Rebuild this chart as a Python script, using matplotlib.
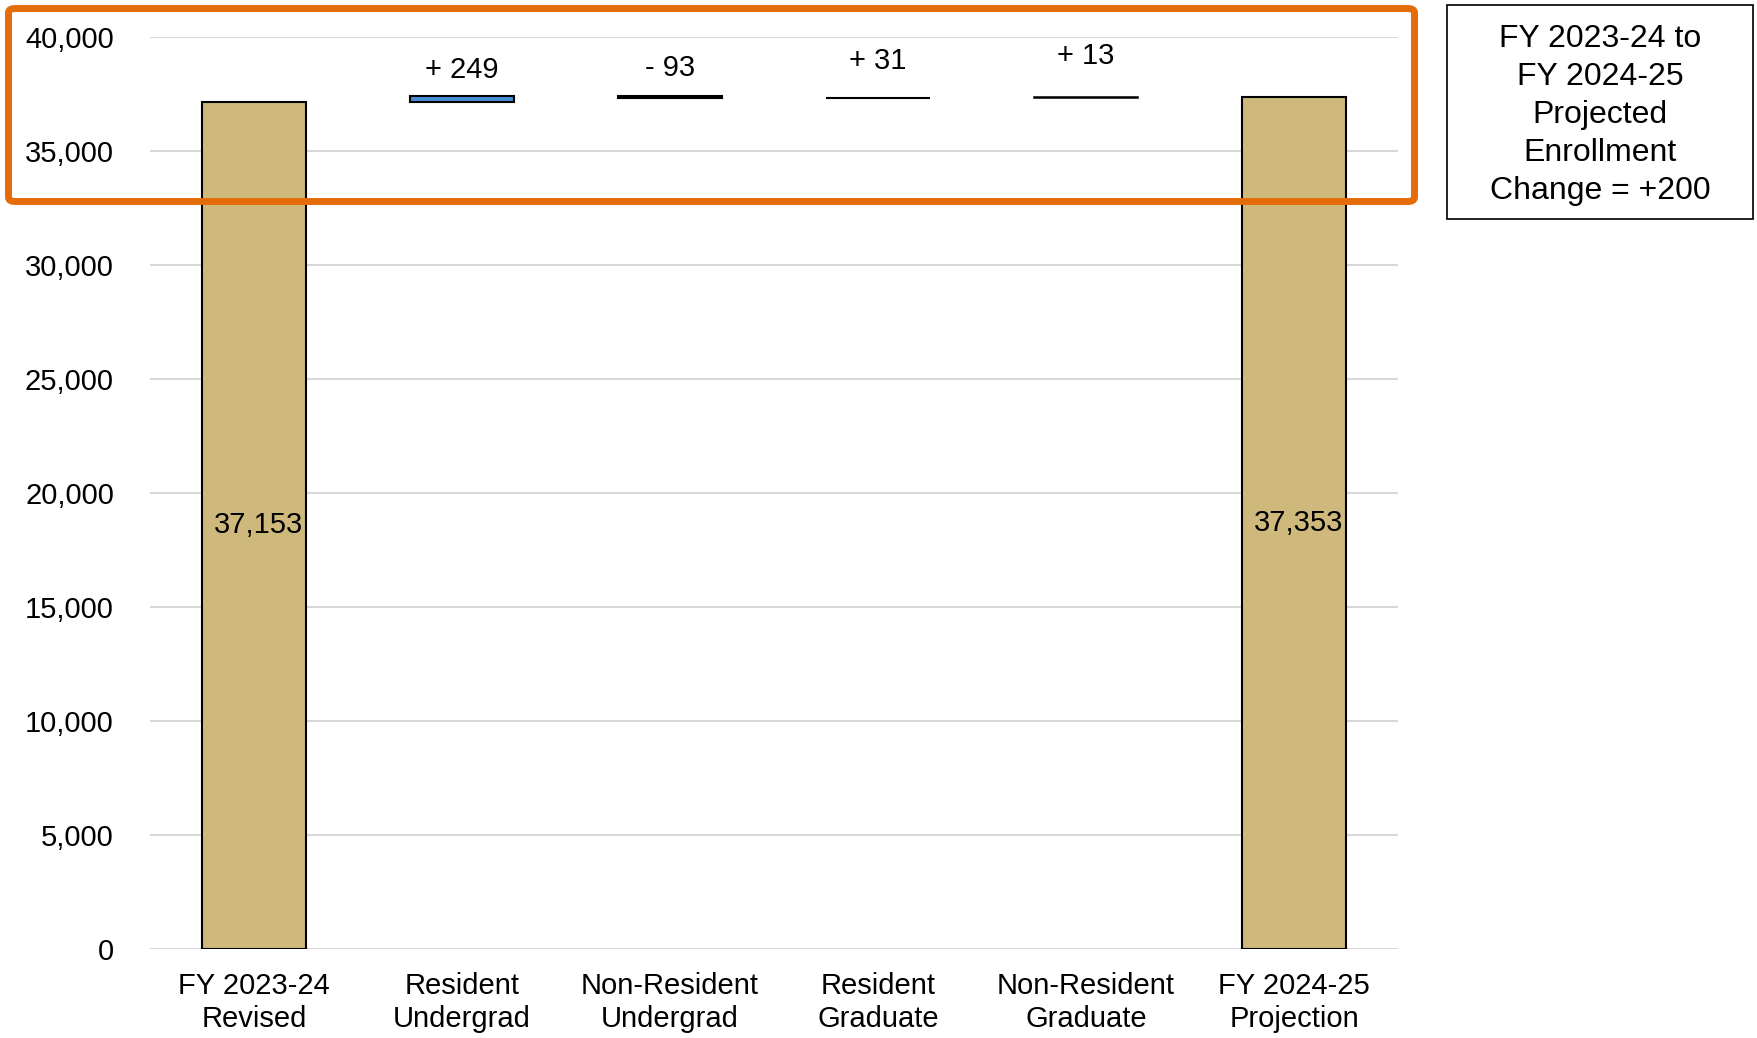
import matplotlib
matplotlib.use("Agg")
import matplotlib.pyplot as plt
from matplotlib.patches import FancyBboxPatch, Rectangle
from matplotlib.ticker import FuncFormatter

plt.rcParams['font.family'] = ['Liberation Sans', 'DejaVu Sans']

# Enrollment waterfall data
categories = ["FY 2023-24\nRevised", "Resident\nUndergrad", "Non-Resident\nUndergrad",
              "Resident\nGraduate", "Non-Resident\nGraduate", "FY 2024-25\nProjection"]
start_total = 37153
changes = [249, -93, 31, 13]
change_labels = ["+ 249", "- 93", "+ 31", "+ 13"]
end_total = start_total + sum(changes)
yticks = [0, 5000, 10000, 15000, 20000, 25000, 30000, 35000, 40000]
note_text = "FY 2023-24 to\nFY 2024-25\nProjected\nEnrollment\nChange = +200"

GOLD = "#CFB87C"
BLUE = "#4A8FD6"
ORANGE = "#E46C0A"

fig = plt.figure(figsize=(17.58, 10.38), dpi=100)
ax = fig.add_axes([150 / 1758, 1 - 948.5 / 1038, (1398 - 150) / 1758, (948.5 - 37) / 1038])

width = 0.5
# Totals
ax.bar(0, start_total, width=width, color=GOLD, edgecolor="black", linewidth=1.5, zorder=3)
ax.bar(5, end_total, width=width, color=GOLD, edgecolor="black", linewidth=1.5, zorder=3)

# Floating change bars
label_offsets = [26, 28, 37, 41]
running = start_total
for i, (c, lab) in enumerate(zip(changes, change_labels)):
    bottom = running if c >= 0 else running + c
    ax.bar(i + 1, abs(c), bottom=bottom, width=width, color=BLUE,
           edgecolor="black", linewidth=1.5 if i < 3 else 1.1, zorder=3)
    top = max(running, running + c)
    ax.annotate(lab, xy=(i + 1, top), xytext=(0, label_offsets[i]),
                textcoords="offset pixels", ha="center", va="center", fontsize=21)
    running += c

ax.text(0.02, start_total / 2, f"{start_total:,}", ha="center", va="center", fontsize=21, zorder=4)
ax.text(5.02, end_total / 2, f"{end_total:,}", ha="center", va="center", fontsize=21, zorder=4)

ax.set_xlim(-0.5, 5.5)
ax.set_ylim(0, 40000)
ax.set_yticks(yticks)
ax.yaxis.set_major_formatter(FuncFormatter(lambda v, p: f"{int(v):,}"))
ax.set_xticks(range(len(categories)))
ax.set_xticklabels(categories, fontsize=21, linespacing=1.22)
ax.tick_params(axis="y", length=0, pad=26, labelsize=21)
ax.tick_params(axis="x", length=0, pad=17)
ax.grid(axis="y", color="#D9D9D9", linewidth=1.5, zorder=0)
for s in ax.spines.values():
    s.set_visible(False)

# Highlight frame around the top of the chart
W, H = 1758, 1038
frame = FancyBboxPatch((8.5 / W, 1 - 201.5 / H), (1414.5 - 8.5) / W, (201.5 - 8.5) / H,
                       boxstyle="round,pad=0,rounding_size=0.004", transform=fig.transFigure,
                       facecolor="none", edgecolor=ORANGE, linewidth=5, zorder=10)
fig.patches.append(frame)

# Summary box
box = Rectangle((1447 / W, 1 - 219 / H), (1753 - 1447) / W, (219 - 4.5) / H,
                transform=fig.transFigure, facecolor="white", edgecolor="black", linewidth=1.2)
fig.patches.append(box)
fig.text(1600 / W, 1 - 115 / H, note_text, ha="center", va="center", fontsize=23, linespacing=1.34)

fig.savefig("out.png", dpi=100)
